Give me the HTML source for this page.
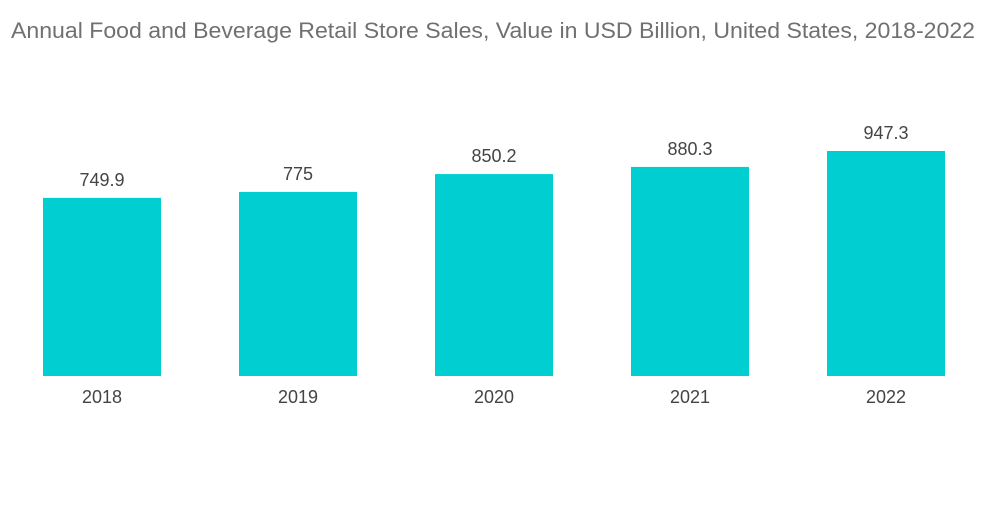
<!DOCTYPE html>
<html>
<head>
<meta charset="utf-8">
<style>
  html,body{margin:0;padding:0;background:#fff;}
  body{width:1000px;height:504px;overflow:hidden;font-family:"Liberation Sans",sans-serif;}
</style>
</head>
<body>
<svg id="chart" width="1000" height="504" xmlns="http://www.w3.org/2000/svg">
  <text x="11" y="38" textLength="964" lengthAdjust="spacingAndGlyphs" font-family="Liberation Sans, sans-serif" font-size="22" fill="#707070">Annual Food and Beverage Retail Store Sales, Value in USD Billion, United States, 2018-2022</text>
  <g id="bars"></g>
</svg>
<script>
const categories = ["2018","2019","2020","2021","2022"];
const values = [749.9, 775, 850.2, 880.3, 947.3];
const valueLabels = ["749.9","775","850.2","880.3","947.3"];

const svg = document.getElementById('chart');
const g = document.getElementById('bars');
const NS = 'http://www.w3.org/2000/svg';
const left = 4, band = 196, barW = 118, baseY = 376, pxPerUnit = 225 / 947.3;
function xScale(i){ return left + band * i + (band - barW) / 2; }
function yScale(v){ return baseY - v * pxPerUnit; }

categories.forEach((c, i) => {
  const x = xScale(i), y = yScale(values[i]);
  const r = document.createElementNS(NS, 'rect');
  r.setAttribute('x', x); r.setAttribute('y', y);
  r.setAttribute('width', barW); r.setAttribute('height', baseY - y);
  r.setAttribute('fill', '#00ced1');
  
  
  g.appendChild(r);

  const t = document.createElementNS(NS, 'text');
  t.setAttribute('x', x + barW / 2); t.setAttribute('y', y - 12);
  t.setAttribute('text-anchor', 'middle');
  t.setAttribute('font-size', '18');
  t.setAttribute('fill', '#444');
  t.textContent = valueLabels[i];
  
  
  g.appendChild(t);

  const l = document.createElementNS(NS, 'text');
  l.setAttribute('x', x + barW / 2); l.setAttribute('y', 403);
  l.setAttribute('text-anchor', 'middle');
  l.setAttribute('font-size', '18');
  l.setAttribute('fill', '#444');
  l.textContent = c;
  
  
  g.appendChild(l);
});
</script>
</body>
</html>
